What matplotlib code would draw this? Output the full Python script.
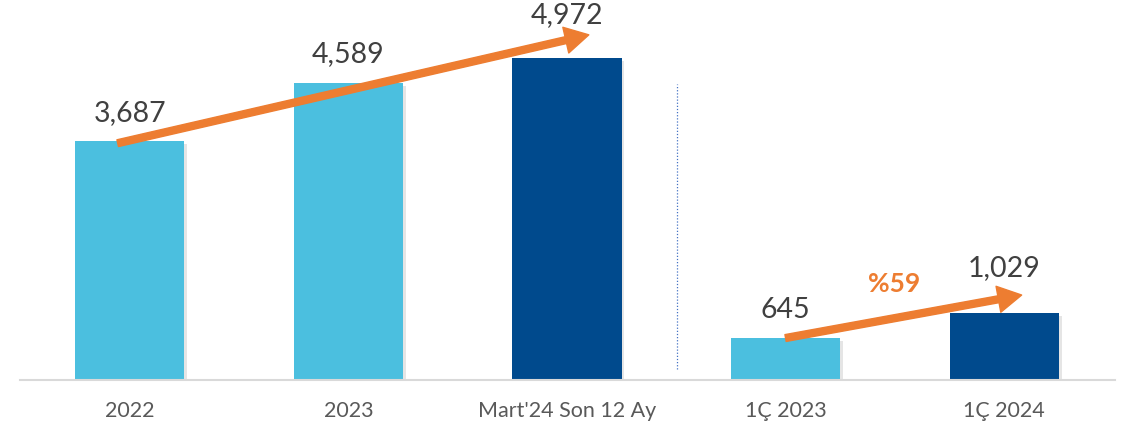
import matplotlib.pyplot as plt
import matplotlib.patheffects as pe
from matplotlib.patches import FancyArrowPatch

plt.rcParams['font.family'] = ['Lato', 'DejaVu Sans']

# === Data ===
categories = ["2022", "2023", "Mart'24 Son 12 Ay", "1Ç 2023", "1Ç 2024"]
values = [3687, 4589, 4972, 645, 1029]
value_labels = ["3,687", "4,589", "4,972", "645", "1,029"]
growth_label = "%59"

light_blue = "#4BBFDF"
dark_blue = "#004A8D"
orange = "#ED7D31"
colors = [light_blue, light_blue, dark_blue, light_blue, dark_blue]

# === Figure ===
fig = plt.figure(figsize=(11.43, 4.30), dpi=100)
ax = fig.add_axes([20 / 1143, 50 / 430, 1095 / 1143, 380 / 430])

x = list(range(len(categories)))
bars = ax.bar(x, values, width=0.5, color=colors, zorder=2)
for b in bars:
    b.set_path_effects([pe.SimplePatchShadow(offset=(2, -2), shadow_rgbFace="gray", alpha=0.2),
                        pe.Normal()])

ax.set_xlim(-0.502, 4.507)
ax.set_ylim(0, 5868)

# value labels (the ones at arrow tips sit a bit higher to clear the arrow head)
label_gap = [240, 240, 470, 240, 500]
for xi, v, lab, gap in zip(x, values, value_labels, label_gap):
    ax.text(xi, v + gap, lab, ha="center", va="bottom", fontsize=20.5, color="#404040")

# category labels
ax.set_xticks(x)
ax.set_xticklabels(categories, fontsize=15.5, color="#595959")
ax.tick_params(axis="x", length=0, pad=15)
ax.set_yticks([])

for s in ["top", "right", "left"]:
    ax.spines[s].set_visible(False)
ax.spines["bottom"].set_color("#D9D9D9")
ax.spines["bottom"].set_linewidth(1.5)

# separator between annual and quarterly figures
ax.axvline(2.502, ymin=0.03, ymax=0.78, color="#4472C4", linestyle=(0, (1, 1.5)), linewidth=0.9)

# growth arrows
arrow_style = "simple,head_length=17,head_width=19,tail_width=5"
a1 = FancyArrowPatch((-0.055, values[0] - 30), (2.1, values[2] * 1.072),
                     arrowstyle=arrow_style, mutation_scale=1, color=orange,
                     shrinkA=0, shrinkB=0, zorder=4)
ax.add_patch(a1)
a2 = FancyArrowPatch((3.0, values[3] + 3), (4.08, values[4] * 1.275),
                     arrowstyle=arrow_style, mutation_scale=1, color=orange,
                     shrinkA=0, shrinkB=0, zorder=4)
ax.add_patch(a2)

ax.text(3.497, 1490, growth_label, ha="center", va="center", fontsize=19,
        fontweight="bold", color=orange)

fig.savefig("out.png", dpi=100)
